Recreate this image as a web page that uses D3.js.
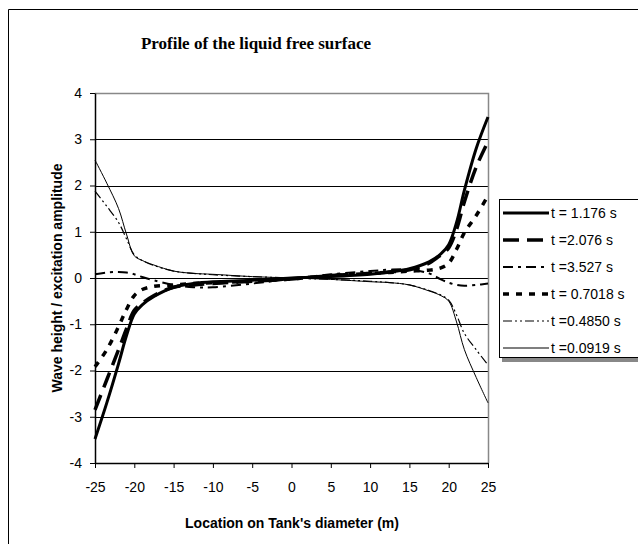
<!DOCTYPE html>
<html>
<head>
<meta charset="utf-8">
<script src="https://cdn.jsdelivr.net/npm/d3@7"></script>
<style>
body { margin:0; background:#fff; }
svg { display:block; }
</style>
</head>
<body>
<svg id="chart"></svg>
<script>
// data
var xs = [-25,-23.5,-22,-21,-20,-19,-17.5,-15,-12.5,-10,-5,0,5,10,12.5,15,17.5,19,20,21,22,23.5,25];

var t1176 = [-3.48,-2.7,-1.85,-1.25,-0.78,-0.58,-0.4,-0.2,-0.12,-0.08,-0.05,0,0.03,0.08,0.13,0.2,0.35,0.52,0.72,1.2,1.9,2.8,3.48];
var t2076 = [-2.85,-2.2,-1.55,-1.1,-0.7,-0.55,-0.38,-0.2,-0.15,-0.12,-0.07,-0.02,0.05,0.1,0.13,0.18,0.32,0.5,0.65,1.05,1.65,2.4,2.95];
var t3527 = [0.08,0.12,0.13,0.12,0.08,0.02,-0.05,-0.15,-0.2,-0.2,-0.12,-0.02,0.08,0.15,0.18,0.18,0.1,-0.03,-0.1,-0.15,-0.17,-0.15,-0.12];
var t7018 = [-1.92,-1.55,-1.05,-0.68,-0.38,-0.25,-0.18,-0.15,-0.12,-0.1,-0.07,-0.02,0.05,0.1,0.12,0.15,0.17,0.22,0.32,0.62,0.98,1.35,1.78];
var t4850 = [1.88,1.55,1.2,0.85,0.5,0.38,0.27,0.15,0.1,0.07,0.03,0,-0.03,-0.07,-0.1,-0.15,-0.27,-0.37,-0.48,-0.8,-1.2,-1.55,-1.88];
var t0919 = [2.55,2.05,1.5,0.95,0.48,0.38,0.28,0.15,0.1,0.08,0.03,0,-0.03,-0.08,-0.1,-0.15,-0.28,-0.38,-0.5,-0.95,-1.55,-2.15,-2.7];

var seriesNames = ["t = 1.176 s","t =2.076 s","t =3.527 s","t = 0.7018 s","t =0.4850 s","t =0.0919 s"];
var seriesValues = [t1176,t2076,t3527,t7018,t4850,t0919];

var xTicks = [-25,-20,-15,-10,-5,0,5,10,15,20,25];
var yTicks = [-4,-3,-2,-1,0,1,2,3,4];

// line looks
var styles = [
    {w:3,   dash:null},
    {w:3.5, dash:"16,8"},
    {w:2,   dash:"10,5,3,5"},
    {w:3.5, dash:"6,7"},
    {w:1.2, dash:"9,3,2,3,2,3"},
    {w:1,   dash:null}
];

var screen = {width:638, height:544};
var margins = {left:95, top:93, right:150, bottom:81};
var graph = {
    width: 488 - margins.left,
    height: 463 - margins.top
};

var svg = d3.select("#chart")
    .attr("width", screen.width)
    .attr("height", screen.height);

var sans = "'Liberation Sans', Arial, sans-serif";

// outer frame (right and bottom fall outside the picture)
svg.append("path")
    .attr("d", "M8.5,560 L8.5,9.5 L660,9.5")
    .attr("fill", "none")
    .attr("stroke", "#000")
    .attr("stroke-width", 1);

svg.append("text")
    .text("Profile of the liquid free surface")
    .attr("x", 256)
    .attr("y", 49)
    .attr("text-anchor", "middle")
    .attr("font-family", "'Liberation Serif', 'Times New Roman', serif")
    .attr("font-weight", "bold")
    .attr("font-size", "17px");

var xScale = d3.scaleLinear().domain([-25,25]).range([0, graph.width]);
var yScale = d3.scaleLinear().domain([-4,4]).range([graph.height, 0]);

var target = svg.append("g")
    .attr("id", "graph")
    .attr("transform", "translate(" + margins.left + "," + margins.top + ")");

// grid lines
target.append("g")
    .selectAll("line")
    .data(yTicks.filter(function(d){ return d > -4 && d < 4; }))
    .enter()
    .append("line")
    .attr("x1", 0)
    .attr("x2", graph.width)
    .attr("y1", function(d){ return Math.round(yScale(d)) + 0.5; })
    .attr("y2", function(d){ return Math.round(yScale(d)) + 0.5; })
    .attr("stroke", "#000")
    .attr("stroke-width", 1);

// plot border top/right (gray)
target.append("path")
    .attr("d", "M0,0.5 L" + (graph.width + 0.5) + ",0.5 L" + (graph.width + 0.5) + "," + graph.height)
    .attr("fill", "none")
    .attr("stroke", "#888")
    .attr("stroke-width", 1.5);

var line = d3.line()
    .x(function(d){ return xScale(d[0]); })
    .y(function(d){ return yScale(d[1]); })
    .curve(d3.curveCatmullRom.alpha(0.5));

target.append("g")
    .selectAll("path")
    .data(seriesValues)
    .enter()
    .append("path")
    .attr("d", function(vals){ return line(xs.map(function(x, i){ return [x, vals[i]]; })); })
    .attr("fill", "none")
    .attr("stroke", "#000")
    .attr("stroke-width", function(d, i){ return styles[i].w; })
    .attr("stroke-dasharray", function(d, i){ return styles[i].dash; })
    .attr("stroke-linejoin", "round");

// axes, hyphen minus like the original
var fmt = function(d){ return String(d); };
var xAxis = target.append("g")
    .attr("transform", "translate(0," + graph.height + ")")
    .call(d3.axisBottom(xScale).tickValues(xTicks).tickFormat(fmt).tickSize(5).tickSizeOuter(0).tickPadding(14));
var yAxis = target.append("g")
    .call(d3.axisLeft(yScale).tickValues(yTicks).tickFormat(fmt).tickSize(5).tickSizeOuter(0).tickPadding(8));

[xAxis, yAxis].forEach(function(ax){
    ax.selectAll("text")
        .attr("font-family", sans)
        .attr("font-size", "14px")
        .attr("fill", "#000");
    ax.selectAll("line").attr("stroke", "#000");
    ax.select(".domain").attr("stroke", "#000").attr("stroke-width", 1.5);
});
xAxis.selectAll(".tick line").attr("y1", 0).attr("y2", 5);
yAxis.selectAll(".tick line").attr("x1", 0).attr("x2", -5);

svg.append("text")
    .text("Location on Tank's diameter (m)")
    .attr("x", 292)
    .attr("y", 528)
    .attr("text-anchor", "middle")
    .attr("font-family", sans)
    .attr("font-weight", "bold")
    .attr("font-size", "14px");

svg.append("text")
    .text("Wave height / excitation amplitude")
    .attr("transform", "translate(62,278) rotate(-90)")
    .attr("text-anchor", "middle")
    .attr("font-family", sans)
    .attr("font-weight", "bold")
    .attr("font-size", "14px");

// legend
var legend = svg.append("g").attr("transform", "translate(499,199)");
legend.append("rect")
    .attr("x", 3).attr("y", 3)
    .attr("width", 150).attr("height", 160)
    .attr("fill", "#888");
legend.append("rect")
    .attr("x", 0.5).attr("y", 0.5)
    .attr("width", 150).attr("height", 158)
    .attr("fill", "#fff")
    .attr("stroke", "#000")
    .attr("stroke-width", 1);

var items = legend.selectAll("g.item")
    .data(seriesNames)
    .enter()
    .append("g")
    .attr("class", "item")
    .attr("transform", function(d, i){ return "translate(0," + (14 + i * 27) + ")"; });

items.append("line")
    .attr("x1", 4).attr("x2", 50)
    .attr("y1", 0).attr("y2", 0)
    .attr("stroke", "#000")
    .attr("stroke-width", function(d, i){ return Math.max(styles[i].w, 1.2); })
    .attr("stroke-dasharray", function(d, i){ return styles[i].dash; });

items.append("text")
    .text(function(d){ return d; })
    .attr("x", 52)
    .attr("y", 5)
    .attr("font-family", sans)
    .attr("font-size", "14px");
</script>
</body>
</html>
